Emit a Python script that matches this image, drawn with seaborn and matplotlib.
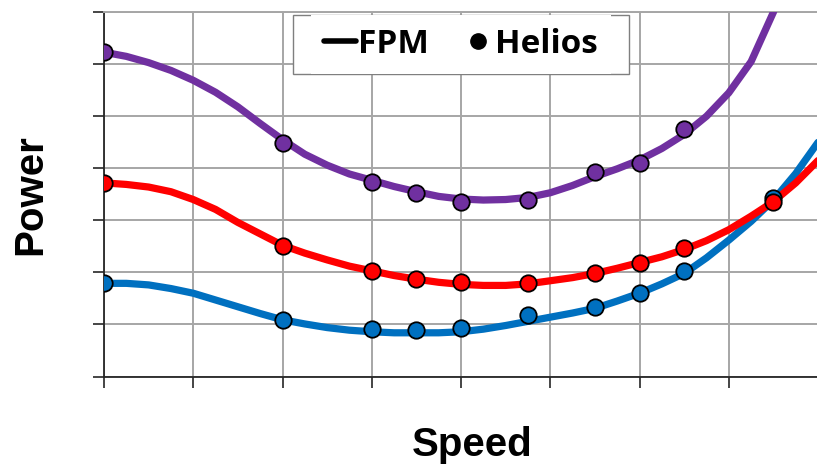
import numpy as np
import pandas as pd
import matplotlib
matplotlib.use("Agg")
import matplotlib.pyplot as plt
from matplotlib.lines import Line2D
from matplotlib.patches import Rectangle
from matplotlib.transforms import IdentityTransform
import seaborn as sns

# ================================
# DATA
# ================================
speed_fpm = [0, 0.25, 0.5, 0.75, 1.0, 1.25, 1.5, 1.75, 2.0, 2.25, 2.5, 2.75,
             3.0, 3.25, 3.5, 3.75, 4.0, 4.25, 4.5, 4.75, 5.0, 5.25, 5.5, 5.75,
             6.0, 6.25, 6.5, 6.75, 7.0, 7.25, 7.5, 7.75, 8.0]

fpm_low = [1.79, 1.79, 1.76, 1.69, 1.60, 1.47, 1.34, 1.21, 1.09, 1.01, 0.94, 0.89,
           0.86, 0.84, 0.84, 0.84, 0.86, 0.91, 0.98, 1.06, 1.14, 1.22, 1.31, 1.45,
           1.60, 1.78, 1.98, 2.28, 2.62, 2.98, 3.39, 3.90, 4.50]

fpm_mid = [3.72, 3.69, 3.64, 3.55, 3.40, 3.21, 2.96, 2.74, 2.52, 2.37, 2.24, 2.12,
           2.03, 1.94, 1.87, 1.81, 1.77, 1.75, 1.75, 1.78, 1.84, 1.90, 1.98, 2.08,
           2.19, 2.30, 2.44, 2.61, 2.82, 3.08, 3.36, 3.72, 4.15]

fpm_high = [6.23, 6.15, 6.03, 5.88, 5.69, 5.46, 5.18, 4.86, 4.55, 4.27, 4.06, 3.89,
            3.77, 3.65, 3.55, 3.46, 3.41, 3.39, 3.40, 3.44, 3.53, 3.67, 3.84, 3.99,
            4.16, 4.38, 4.65, 5.00, 5.45, 6.05, 7.00, 8.20, np.nan]

speed_helios = [0, 2, 3, 3.5, 4, 4.75, 5.5, 6, 6.5, 7.5]
helios_low = [1.79, 1.08, 0.91, 0.89, 0.94, 1.19, 1.34, 1.61, 2.03, 3.42]
helios_mid = [3.71, 2.51, 2.03, 1.88, 1.81, 1.80, 1.99, 2.19, 2.47, 3.35]
helios_high = [6.23, 4.48, 3.74, 3.53, 3.36, 3.39, 3.92, 4.10, 4.76, np.nan]

series = ["low", "mid", "high"]
colors = {"low": "#0070C0", "mid": "#FF0000", "high": "#7030A0"}

fpm = pd.DataFrame({
    "Speed": speed_fpm * 3,
    "Power": fpm_low + fpm_mid + fpm_high,
    "Series": ["low"] * len(speed_fpm) + ["mid"] * len(speed_fpm) + ["high"] * len(speed_fpm),
})
helios = pd.DataFrame({
    "Speed": speed_helios * 3,
    "Power": helios_low + helios_mid + helios_high,
    "Series": ["low"] * len(speed_helios) + ["mid"] * len(speed_helios) + ["high"] * len(speed_helios),
}).dropna()

# ================================
# PLOT
# ================================
sns.set_style("white")
plt.rcParams["font.family"] = ["Liberation Sans", "DejaVu Sans"]
plt.rcParams["text.color"] = "black"
plt.rcParams["axes.labelcolor"] = "black"

fig = plt.figure(figsize=(8.17, 4.66), dpi=100)
ax = fig.add_axes([0.1273, 0.192, 0.874, 0.782])

for s in series:
    sns.lineplot(data=fpm[fpm["Series"] == s], x="Speed", y="Power",
                 color=colors[s], linewidth=5.2, ax=ax, zorder=3,
                 solid_capstyle="round", solid_joinstyle="round")
for s in series:
    sns.scatterplot(data=helios[helios["Series"] == s], x="Speed", y="Power",
                    color=colors[s], s=140, edgecolor="black", linewidth=1.3,
                    ax=ax, zorder=4)

ax.set_xlim(0, 8)
ax.set_ylim(0, 7)
ax.set_xticks(range(0, 9))
ax.set_yticks(range(0, 8))
ax.set_xticklabels([])
ax.set_yticklabels([])
ax.grid(True, color="#a6a6a6", linewidth=1.4)
ax.tick_params(axis="both", direction="out", length=8, width=1.2, color="#262626",
               left=True, bottom=True)

for side in ["left", "bottom"]:
    ax.spines[side].set_color("#262626")
    ax.spines[side].set_linewidth(1.3)
ax.spines["top"].set_color("#a6a6a6")
ax.spines["top"].set_linewidth(1.4)
ax.spines["right"].set_visible(False)

ax.set_xlabel("Speed", fontsize=29, fontweight="bold", color="black")
ax.xaxis.set_label_coords(0.515, -0.135)
ax.set_ylabel("Power", fontsize=29, fontweight="bold", labelpad=28, color="black")

handles = [
    Line2D([0], [0], color="black", linewidth=4),
    Line2D([0], [0], color="black", linestyle="none", marker="o", markersize=11),
]
leg = ax.legend(handles, ["FPM", "Helios"], loc="upper center", bbox_to_anchor=(0.5, 1.0),
                ncol=2, frameon=True, fancybox=False, borderaxespad=0.08,
                handlelength=0.95, handletextpad=0.05, columnspacing=1.0, borderpad=0.4,
                prop={"family": "Open Sans", "weight": "bold", "size": 24})
leg.get_frame().set_edgecolor("none")
leg.get_frame().set_alpha(1.0)
leg.set_zorder(6)
for t in leg.get_texts():
    t.set_color("black")

# wider frame round the legend, as in the reference
fig.canvas.draw()
bb = leg.get_window_extent()
frame = Rectangle((bb.x0 - 18, bb.y0), bb.width + 36, bb.height, transform=IdentityTransform(),
                  facecolor="white", edgecolor="#7f7f7f", linewidth=1.0, zorder=5, clip_on=False)
ax.add_artist(frame)

plt.savefig("out.png", dpi=100)
